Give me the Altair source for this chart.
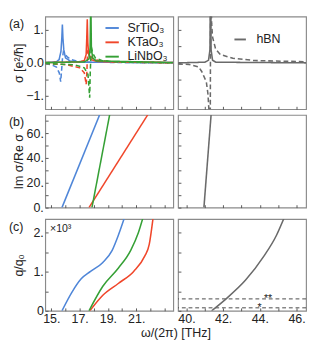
import altair as alt
import pandas as pd

FONT = "Liberation Sans"
INK = "#222222"
BLUE, RED, GREEN, GRAY = "#4F86D8", "#F0462A", "#35A035", "#6A6A6A"

MATERIALS = ["SrTiO₃", "KTaO₃", "LiNbO₃"]
MATERIAL_COLORS = [BLUE, RED, GREEN]

X_LEFT = [14.57, 23.62]
X_RIGHT = [39.54, 46.52]
Y_A = [-1.4, 1.4]
Y_B = [0, 75]
Y_C = [0, 2.35]

# ---- (a) sigma : solid = Re, dashed = Im
sto_re_f = [14.57, 15.35, 15.55, 15.68, 15.74, 15.78, 15.82, 15.88, 16.0, 16.35, 17.3, 23.6]
sto_re_v = [0.01, 0.03, 0.1, 0.35, 0.75, 1.16, 0.75, 0.4, 0.15, 0.05, 0.02, 0.01]
sto_im_f = [14.57, 15.03, 15.36, 15.56, 15.66, 15.72, 15.79, 15.85, 15.95, 16.15, 16.41, 16.8, 17.66, 23.6]
sto_im_v = [-0.03, -0.06, -0.13, -0.3, -0.57, -0.25, 0.15, 0.33, 0.27, 0.17, 0.1, 0.05, 0.02, 0.0]
kto_re_f = [14.57, 17.0, 17.33, 17.46, 17.5, 17.54, 17.58, 17.64, 17.79, 18.31, 23.6]
kto_re_v = [0.01, 0.03, 0.07, 0.25, 0.7, 1.32, 0.6, 0.25, 0.1, 0.04, 0.01]
kto_im_f = [14.57, 16.02, 17.0, 17.33, 17.46, 17.51, 17.56, 17.66, 17.85, 18.31, 19.3, 23.6]
kto_im_v = [-0.02, -0.05, -0.15, -0.3, -0.65, -0.3, 0.35, 0.3, 0.15, 0.07, 0.03, 0.0]
lno_re_f = [14.57, 17.33, 17.66, 17.74, 17.79, 17.83, 17.92, 18.18, 23.6]
lno_re_v = [0.01, 0.03, 0.12, 0.45, 2.0, 0.45, 0.15, 0.06, 0.01]
lno_im_f = [14.57, 16.67, 17.33, 17.59, 17.71, 17.75, 17.82, 17.92, 18.11, 18.64, 19.95, 23.6]
lno_im_v = [-0.02, -0.06, -0.15, -0.35, -1.05, -0.3, 0.5, 0.3, 0.15, 0.06, 0.02, 0.0]
hbn_re_f = [39.54, 41.0, 41.2, 41.28, 41.31, 41.34, 41.42, 41.6, 46.52]
hbn_re_v = [0.0, 0.02, 0.08, 0.4, 3.0, 0.4, 0.08, 0.02, 0.0]
hbn_im_f = [39.54, 40.15, 40.66, 40.83, 41.08, 41.17, 41.24, 41.29, 41.32, 41.37, 41.42, 41.59, 41.85, 42.53, 43.71, 46.52]
hbn_im_v = [-0.03, -0.05, -0.12, -0.26, -0.57, -0.94, -1.6, -3.0, 3.0, 1.2, 0.78, 0.41, 0.25, 0.14, 0.07, 0.035]

# ---- (b) Im sigma / Re sigma
ratio_v = [0, 75]
sto_ratio_f = [15.75, 18.41]
kto_ratio_f = [17.66, 21.81]
lno_ratio_f = [17.87, 19.12]
hbn_ratio_f = [40.95, 41.34]

# ---- (c) q/q0 (x10^3)
sto_q_f = [15.75, 16.46, 17.11, 17.77, 18.64, 19.30, 19.73, 20.17]
sto_q_v = [0, 0.48, 0.82, 1.01, 1.24, 1.55, 1.93, 2.39]
kto_q_f = [17.72, 18.64, 19.73, 20.82, 21.6, 21.92, 22.18]
kto_q_v = [0, 0.4, 0.7, 1.01, 1.4, 1.7, 2.35]
lno_q_f = [17.66, 18.64, 19.73, 20.61, 21.15, 21.48]
lno_q_v = [0, 0.63, 1.09, 1.55, 2.0, 2.39]
hbn_q_f = [41.37, 42.19, 43.21, 44.22, 44.9, 45.33]
hbn_q_v = [0, 0.32, 0.78, 1.4, 1.93, 2.39]
cut_q = [0.305, 0.076]
cut_label = ["**", "*"]
cut_label_f = [44.45, 43.98]

W = 134
HA, HB, HC = 97, 97, 96


def frame(f, v, mat, part="Re"):
    return pd.DataFrame({"f": f, "v": v, "mat": mat, "part": part})


def x_axis(side, show):
    if side == "L":
        vals = list(range(15, 24))
        expr = "(datum.value % 2 == 1 && datum.value <= 21) ? datum.value + '.' : ''"
    else:
        vals = list(range(40, 47))
        expr = "datum.value % 2 == 0 ? datum.value + '.' : ''"
    return alt.Axis(values=vals, labels=show, labelExpr=expr, title=None, offset=-3,
                    tickSize=3, domain=False, grid=False, labelPadding=2,
                    labelOverlap=False, labelFlush=False)


def y_axis(kind, show, title=None):
    if kind == "a":
        vals = [-1, -0.5, 0, 0.5, 1]
        expr = "datum.value == 0 ? '0.0' : datum.value == 1 ? '1.' : datum.value == -1 ? '\u22121.' : ''"
    elif kind == "b":
        vals = list(range(0, 80, 10))
        expr = "datum.value % 20 == 0 ? datum.value + '.' : ''"
    else:
        vals = [0, 0.5, 1, 1.5, 2]
        expr = "datum.value == 0 ? '0' : datum.value == 1 ? '1.' : datum.value == 2 ? '2.' : ''"
    if show:
        return alt.Axis(values=vals, labelExpr=expr, title=title, offset=-3, tickSize=3,
                        domain=False, grid=False, labelPadding=2, minExtent=22, maxExtent=22,
                        titlePadding=2, labelOverlap=False)
    return alt.Axis(values=vals, labels=False, title=None, offset=-3, tickSize=3,
                    domain=False, grid=False)


def tag(text, dx=-38):
    return alt.Chart(pd.DataFrame({"t": [text]})).mark_text(
        align="left", baseline="top", fontSize=13, font=FONT, color=INK
    ).encode(x=alt.value(dx), y=alt.value(2), text="t:N")


mat_scale = alt.Scale(domain=MATERIALS, range=MATERIAL_COLORS)
dash_scale = alt.Scale(domain=["Re", "Im"], range=[[1, 0], [5, 3]])

# ---------------- (a)
dfA_L = pd.concat([
    frame(sto_re_f, sto_re_v, MATERIALS[0]), frame(sto_im_f, sto_im_v, MATERIALS[0], "Im"),
    frame(kto_re_f, kto_re_v, MATERIALS[1]), frame(kto_im_f, kto_im_v, MATERIALS[1], "Im"),
    frame(lno_re_f, lno_re_v, MATERIALS[2]), frame(lno_im_f, lno_im_v, MATERIALS[2], "Im"),
])
A_L = alt.layer(
    alt.Chart(dfA_L).mark_line(clip=True, strokeWidth=1.6).encode(
        x=alt.X("f:Q", scale=alt.Scale(domain=X_LEFT, nice=False, zero=False), axis=x_axis("L", False)),
        y=alt.Y("v:Q", scale=alt.Scale(domain=Y_A, nice=False), axis=y_axis("a", True, "σ [e²/ħ]")),
        color=alt.Color("mat:N", scale=mat_scale, legend=alt.Legend(
            title=None, orient="none", legendX=62, legendY=4, symbolType="stroke",
            symbolStrokeWidth=2, symbolSize=196, labelFontSize=13, labelFont=FONT,
            labelColor=INK, rowPadding=0, padding=0, labelOffset=8)),
        strokeDash=alt.StrokeDash("part:N", scale=dash_scale, legend=None),
    ),
    tag("(a)"),
).properties(width=W, height=HA)

dfA_R = pd.concat([frame(hbn_re_f, hbn_re_v, "hBN"), frame(hbn_im_f, hbn_im_v, "hBN", "Im")])
A_R = alt.Chart(dfA_R).mark_line(clip=True, strokeWidth=1.6).encode(
    x=alt.X("f:Q", scale=alt.Scale(domain=X_RIGHT, nice=False, zero=False), axis=x_axis("R", False)),
    y=alt.Y("v:Q", scale=alt.Scale(domain=Y_A, nice=False), axis=y_axis("a", False)),
    color=alt.Color("mat:N", scale=alt.Scale(domain=["hBN"], range=[GRAY]), legend=alt.Legend(
        title=None, orient="none", legendX=58, legendY=17, symbolType="stroke",
        symbolStrokeWidth=2, symbolSize=144, labelFontSize=13, labelFont=FONT,
        labelColor=INK, padding=0, labelOffset=10)),
    strokeDash=alt.StrokeDash("part:N", scale=dash_scale, legend=None),
).properties(width=W, height=HA)

# ---------------- (b)
dfB_L = pd.concat([
    frame(sto_ratio_f, ratio_v, MATERIALS[0]),
    frame(kto_ratio_f, ratio_v, MATERIALS[1]),
    frame(lno_ratio_f, ratio_v, MATERIALS[2]),
])
B_L = alt.layer(
    alt.Chart(dfB_L).mark_line(clip=True, strokeWidth=1.6).encode(
        x=alt.X("f:Q", scale=alt.Scale(domain=X_LEFT, nice=False, zero=False), axis=x_axis("L", False)),
        y=alt.Y("v:Q", scale=alt.Scale(domain=Y_B, nice=False), axis=y_axis("b", True, "Im σ/Re σ")),
        color=alt.Color("mat:N", scale=mat_scale, legend=None),
    ),
    tag("(b)"),
).properties(width=W, height=HB)

B_R = alt.Chart(frame(hbn_ratio_f, ratio_v, "hBN")).mark_line(clip=True, strokeWidth=1.6, color=GRAY).encode(
    x=alt.X("f:Q", scale=alt.Scale(domain=X_RIGHT, nice=False, zero=False), axis=x_axis("R", False)),
    y=alt.Y("v:Q", scale=alt.Scale(domain=Y_B, nice=False), axis=y_axis("b", False)),
).properties(width=W, height=HB)

# ---------------- (c)
dfC_L = pd.concat([
    frame(sto_q_f, sto_q_v, MATERIALS[0]),
    frame(kto_q_f, kto_q_v, MATERIALS[1]),
    frame(lno_q_f, lno_q_v, MATERIALS[2]),
])
C_L = alt.layer(
    alt.Chart(dfC_L).mark_line(clip=True, strokeWidth=1.6, interpolate="monotone").encode(
        x=alt.X("f:Q", scale=alt.Scale(domain=X_LEFT, nice=False, zero=False), axis=x_axis("L", True)),
        y=alt.Y("v:Q", scale=alt.Scale(domain=Y_C, nice=False), axis=y_axis("c", True, "q/q₀")),
        color=alt.Color("mat:N", scale=mat_scale, legend=None),
    ),
    tag("(c)"),
    alt.Chart(pd.DataFrame({"t": ["×10³"]})).mark_text(
        align="left", baseline="top", fontSize=11, font=FONT, color=INK
    ).encode(x=alt.value(5), y=alt.value(4), text="t:N"),
).properties(width=W, height=HC)

xr = alt.X("f:Q", scale=alt.Scale(domain=X_RIGHT, nice=False, zero=False), axis=x_axis("R", True))
yc = alt.Y("v:Q", scale=alt.Scale(domain=Y_C, nice=False), axis=y_axis("c", False))
C_R = alt.layer(
    alt.Chart(pd.DataFrame({"v": cut_q})).mark_rule(strokeDash=[4, 3], color="#444444", strokeWidth=1).encode(y=yc),
    alt.Chart(frame(hbn_q_f, hbn_q_v, "hBN")).mark_line(clip=True, strokeWidth=1.6, color=GRAY,
                                                      interpolate="monotone").encode(x=xr, y=yc),
    alt.Chart(pd.DataFrame({"f": cut_label_f, "v": cut_q, "t": cut_label})).mark_text(
        fontSize=11, font=FONT, color=INK, baseline="alphabetic", dy=3
    ).encode(x=xr, y=yc, text="t:N"),
).properties(width=W, height=HC)

rowA = alt.hconcat(A_L, A_R, spacing=2).resolve_scale(color="independent", strokeDash="independent")
rowB = alt.hconcat(B_L, B_R, spacing=2).resolve_scale(color="independent")
rowC = alt.hconcat(C_L, C_R, spacing=2).resolve_scale(color="independent")

chart = alt.vconcat(rowA, rowB, rowC, spacing=3).resolve_scale(
    color="independent", strokeDash="independent"
).properties(
    padding=0,
    title=alt.TitleParams("ω/(2π) [THz]", orient="bottom", anchor="middle", frame="bounds", dx=19,
                          fontSize=13, font=FONT, fontWeight="normal", color=INK, offset=2),
).configure_view(stroke="#8A8A8A", strokeWidth=1.2).configure_axis(
    labelFont=FONT, labelFontSize=13, labelColor=INK, titleFont=FONT, titleFontSize=13,
    titleFontWeight="normal", titleColor=INK, tickColor="#555555", tickWidth=1,
).configure_legend(labelFont=FONT)

chart.save("out.html", embed_options={"renderer": "svg", "actions": False})
